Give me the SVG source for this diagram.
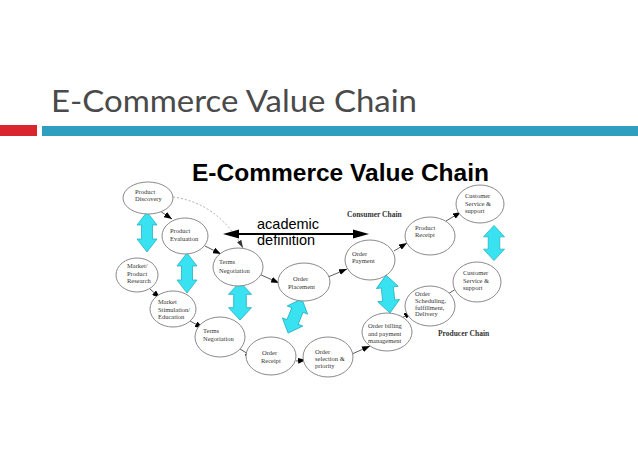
<svg xmlns="http://www.w3.org/2000/svg" xmlns:xlink="http://www.w3.org/1999/xlink" width="638" height="451" viewBox="0 0 638 451">
<style>
.title{font-family:Lato,"Liberation Sans",sans-serif;font-size:30px;fill:#4a4a4a}
.h2{font-family:"Liberation Sans",Arial,sans-serif;font-weight:bold;font-size:24px;fill:#000}
.node ellipse{fill:#fff;stroke:#8a8a8a;stroke-width:1}
.node text{font-family:"Liberation Serif","Times New Roman",serif;font-size:6.5px;fill:#333}
.lbl{font-family:"Liberation Serif","Times New Roman",serif;font-weight:bold;font-size:7.5px;fill:#333}
.acad{font-family:"Liberation Sans",Arial,sans-serif;font-size:14.5px;fill:#000}
.con{stroke:#333;stroke-width:0.8;fill:none;marker-end:url(#ah)}
.dbl{fill:#38e2f0;stroke:#26b2c4;stroke-width:0.8}
</style>
<defs>
<marker id="ah" markerUnits="userSpaceOnUse" markerWidth="9" markerHeight="6" refX="8" refY="3" orient="auto">
<path d="M0,0 L8,3 L0,6 z" fill="#000"/>
</marker>
<marker id="ahg" markerUnits="userSpaceOnUse" markerWidth="9" markerHeight="6" refX="8" refY="3" orient="auto">
<path d="M0,0.5 L8,3 L0,5.5 z" fill="#333"/>
</marker>
<path id="dbl" d="M0,-20 L10,-7 L5.5,-7 L5.5,7 L10,7 L0,20 L-10,7 L-5.5,7 L-5.5,-7 L-10,-7 z"/>
</defs>
<rect width="638" height="451" fill="#fff"/>
<text class="title" x="51" y="112" textLength="366" lengthAdjust="spacingAndGlyphs">E-Commerce Value Chain</text>
<rect x="0" y="125" width="37" height="11" fill="#d9262e"/>
<rect x="42" y="126" width="596" height="10" fill="#2e9fbe"/>
<text class="h2" x="192" y="181" textLength="297" lengthAdjust="spacingAndGlyphs">E-Commerce Value Chain</text>
<text class="lbl" x="347" y="217">Consumer Chain</text>
<text class="lbl" x="438" y="336">Producer Chain</text>
<text class="acad" x="257" y="229">academic</text>
<text class="acad" x="257" y="245">definition</text>
<g id="cyan-arrows" class="dbl">
<use xlink:href="#dbl" transform="translate(147,232)"/>
<use xlink:href="#dbl" transform="translate(187,273)"/>
<use xlink:href="#dbl" transform="translate(240,301) scale(1.15,0.95)"/>
<use xlink:href="#dbl" transform="translate(295,316) rotate(22) scale(1.1,0.92)"/>
<use xlink:href="#dbl" transform="translate(388,294) rotate(-6) scale(1.1,0.95)"/>
<use xlink:href="#dbl" transform="translate(494,243) scale(1.05,0.88)"/>
</g>
<g id="connectors">
<path class="con" d="M160,211 L172,219"/>
<path class="con" d="M205,246 L221,254"/>
<path class="con" d="M259,274 L279,283"/>
<path class="con" d="M328,277 L347,269"/>
<path class="con" d="M394,251 L407,243"/>
<path class="con" d="M446,221 L461,212"/>
<path class="con" d="M150,289 L160,298"/>
<path class="con" d="M190,321 L203,328"/>
<path class="con" d="M240,349 L253,357"/>
<path class="con" d="M296,361 L306,360"/>
<path class="con" d="M352,354 L370,346"/>
<path class="con" d="M400,319 L412,312"/>
<path class="con" d="M448,294 L462,285"/>
<path d="M173,197 Q218,203 243,248" fill="none" stroke="#999" stroke-width="0.8" stroke-dasharray="2,2" marker-end="url(#ahg)"/>
<line x1="236" y1="234" x2="356" y2="234" stroke="#000" stroke-width="2"/>
<path d="M223,234 L239,229.5 L239,238.5 z" fill="#000"/>
<path d="M369,234 L353,229.5 L353,238.5 z" fill="#000"/>
</g>
<g id="n-product-discovery" class="node"><ellipse cx="148" cy="198" rx="25" ry="16"/><text x="135" y="194">Product</text><text x="135" y="201">Discovery</text></g>
<g id="n-product-evaluation" class="node"><ellipse cx="185" cy="236" rx="23" ry="18"/><text x="170" y="233">Product</text><text x="170" y="241">Evaluation</text></g>
<g id="n-market-research" class="node"><ellipse cx="137" cy="275" rx="21" ry="17"/><text x="127" y="268">Market/</text><text x="127" y="275.5">Product</text><text x="127" y="283">Research</text></g>
<g id="n-market-stimulation" class="node"><ellipse cx="173" cy="309" rx="23" ry="18"/><text x="158" y="304">Market</text><text x="158" y="311.5">Stimulation/</text><text x="158" y="319">Education</text></g>
<g id="n-terms-negotiation-1" class="node"><ellipse cx="238" cy="267" rx="25" ry="19"/><text x="219" y="264">Terms</text><text x="219" y="273">Negotiation</text></g>
<g id="n-terms-negotiation-2" class="node"><ellipse cx="220" cy="337" rx="25" ry="20"/><text x="203" y="333">Terms</text><text x="203" y="341">Negotiation</text></g>
<g id="n-order-placement" class="node"><ellipse cx="304" cy="282" rx="26" ry="19"/><text x="293" y="281">Order</text><text x="288" y="289">Placement</text></g>
<g id="n-order-receipt" class="node"><ellipse cx="271" cy="356" rx="25" ry="19"/><text x="262" y="355">Order</text><text x="261" y="363">Receipt</text></g>
<g id="n-order-selection" class="node"><ellipse cx="328" cy="357" rx="25" ry="20"/><text x="315" y="354">Order</text><text x="315" y="361">selection &amp;</text><text x="315" y="368">priority</text></g>
<g id="n-order-billing" class="node"><ellipse cx="387" cy="332" rx="25" ry="19"/><text x="368" y="328">Order billing</text><text x="368" y="335.5">and payment</text><text x="368" y="343">management</text></g>
<g id="n-order-scheduling" class="node"><ellipse cx="430" cy="306" rx="25" ry="20"/><text x="415" y="296">Order</text><text x="415" y="303">Scheduling,</text><text x="415" y="309.5">fulfillment,</text><text x="415" y="316">Delivery</text></g>
<g id="n-order-payment" class="node"><ellipse cx="370" cy="260" rx="25" ry="20"/><text x="352" y="256">Order</text><text x="352" y="263">Payment</text></g>
<g id="n-product-receipt" class="node"><ellipse cx="430" cy="236" rx="25" ry="19"/><text x="415" y="230">Product</text><text x="415" y="237">Receipt</text></g>
<g id="n-customer-service-1" class="node"><ellipse cx="480" cy="204" rx="24" ry="19"/><text x="465" y="198">Customer</text><text x="465" y="205.5">Service &amp;</text><text x="465" y="213">support</text></g>
<g id="n-customer-service-2" class="node"><ellipse cx="477" cy="282" rx="24" ry="20"/><text x="463" y="275">Customer</text><text x="463" y="282.5">Service &amp;</text><text x="463" y="290">support</text></g>
</svg>
